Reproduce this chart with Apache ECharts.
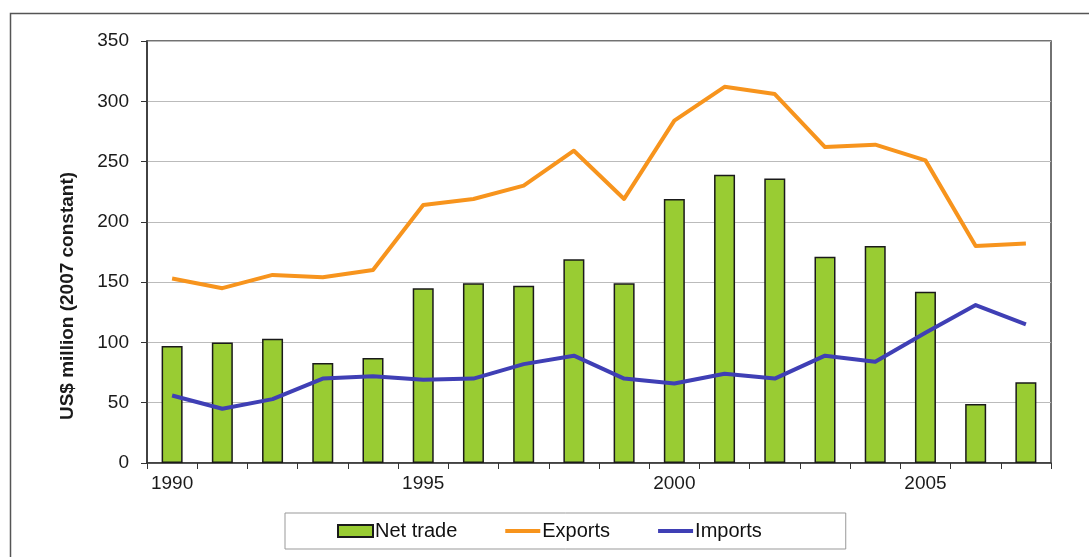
<!DOCTYPE html>
<html>
<head>
<meta charset="utf-8">
<script src="https://cdn.jsdelivr.net/npm/echarts@6/dist/echarts.min.js"></script>
<style>
  html, body { margin: 0; padding: 0; background: #fff; }
  #chart { width: 1089px; height: 557px; }
</style>
</head>
<body>
<div id="chart"></div>
<script>
// Trade series, US$ million (2007 constant)
const years = ['1990','1991','1992','1993','1994','1995','1996','1997','1998','1999',
               '2000','2001','2002','2003','2004','2005','2006','2007'];
const netTrade = [97, 100, 103, 83, 87, 145, 149, 147, 169, 149, 219, 239, 236, 171, 180, 142, 49, 67];
const exportsVals = [153, 145, 156, 154, 160, 214, 219, 230, 259, 219, 284, 312, 306, 262, 264, 251, 180, 182];
const importsVals = [56, 45, 53, 70, 72, 69, 70, 82, 89, 70, 66, 74, 70, 89, 84, 108, 131, 115];
const yTicks = [0, 50, 100, 150, 200, 250, 300, 350];

const FONT = '"Liberation Sans", Arial, sans-serif';
const LINE_ICON = 'path://M0,0L35,0L35,4L0,4Z';
const chart = echarts.init(document.getElementById('chart'));

chart.setOption({
  animation: false,
  backgroundColor: '#fff',
  textStyle: { fontFamily: FONT },
  graphic: [
    {
      type: 'rect', silent: true, z: -1,
      shape: { x: 10.5, y: 13.5, width: 1200, height: 700 },
      style: { fill: 'none', stroke: '#555', lineWidth: 1.5 }
    },
    {
      type: 'text', x: 68, y: 296, rotation: Math.PI / 2,
      style: {
        text: 'US$ million (2007 constant)',
        font: 'bold 19px ' + FONT, fill: '#1a1a1a',
        align: 'center', verticalAlign: 'middle'
      }
    }
  ],
  grid: {
    left: 147, right: 38, top: 41, bottom: 94,
    show: true, borderColor: '#444', borderWidth: 1.5, backgroundColor: 'transparent'
  },
  legend: {
    left: 285, top: 513,
    padding: [8, 84, 8, 52],
    itemGap: 48,
    itemWidth: 35, itemHeight: 12,
    borderColor: '#999', borderWidth: 1,
    textStyle: { fontSize: 20, color: '#111', fontFamily: FONT, padding: [0, 0, 0, -3] },
    data: [
      { name: 'Net trade', icon: 'rect' },
      { name: 'Exports', icon: LINE_ICON, itemStyle: { color: '#f7941d', borderWidth: 0 } },
      { name: 'Imports', icon: LINE_ICON, itemStyle: { color: '#3f3fb5', borderWidth: 0 } }
    ]
  },
  xAxis: {
    type: 'category',
    data: years,
    boundaryGap: true,
    axisLine: { lineStyle: { color: '#333', width: 1.5 } },
    axisTick: { show: true, interval: 0, length: 6, lineStyle: { color: '#333' } },
    axisLabel: {
      interval: function (i) { return i % 5 === 0; },
      fontSize: 19, color: '#1a1a1a', margin: 11, fontFamily: FONT
    },
    splitLine: { show: false }
  },
  yAxis: {
    type: 'value',
    min: 0, max: 350, interval: 50,
    axisLine: { show: true, lineStyle: { color: '#333', width: 1.5 } },
    axisTick: { show: true, length: 6, lineStyle: { color: '#333' } },
    axisLabel: {
      fontSize: 19, color: '#1a1a1a', margin: 18, fontFamily: FONT,
      formatter: function (v) { return yTicks.indexOf(v) >= 0 ? String(v) : ''; }
    },
    splitLine: { show: true, lineStyle: { color: '#bbb', width: 1 } }
  },
  series: [
    {
      name: 'Net trade',
      type: 'bar',
      data: netTrade,
      barWidth: 21,
      itemStyle: { color: '#99cc33', borderColor: '#1a1a1a', borderWidth: 1.5 },
      z: 2
    },
    {
      name: 'Exports',
      type: 'line',
      data: exportsVals,
      symbol: 'none',
      lineStyle: { color: '#f7941d', width: 4, join: 'round' },
      itemStyle: { color: '#f7941d' },
      z: 3
    },
    {
      name: 'Imports',
      type: 'line',
      data: importsVals,
      symbol: 'none',
      lineStyle: { color: '#3f3fb5', width: 4, join: 'round' },
      itemStyle: { color: '#3f3fb5' },
      z: 4
    }
  ]
});
</script>
</body>
</html>
